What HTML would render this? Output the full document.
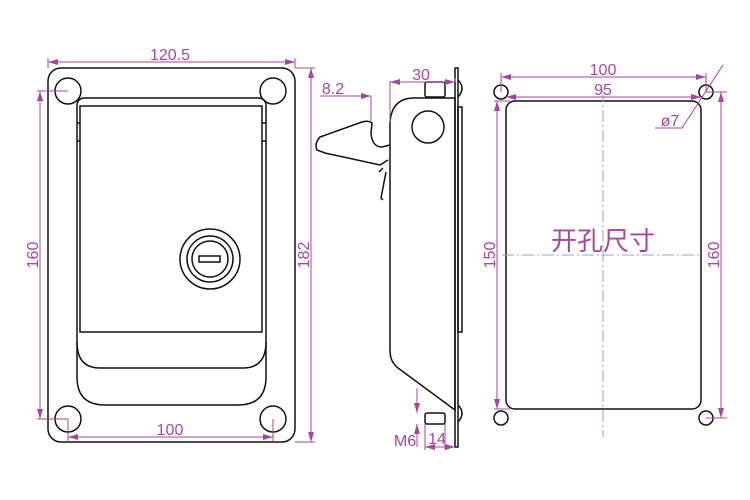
<!DOCTYPE html>
<html><head><style>body{margin:0;background:#fff}svg{display:block}</style></head><body>
<svg width="750" height="500" viewBox="0 0 750 500" xmlns="http://www.w3.org/2000/svg">
<defs>
<marker id="a" viewBox="0 0 10 6" refX="10" refY="3" markerWidth="10" markerHeight="6" orient="auto-start-reverse" markerUnits="userSpaceOnUse"><path d="M0,0L10,3L0,6z" fill="#a6479e"/></marker>
</defs>
<g fill="none" stroke="#111" stroke-width="1.5">
<rect x="48" y="68" width="247" height="374" rx="13"/>
<circle cx="68" cy="91" r="13"/><circle cx="273" cy="91" r="13"/>
<circle cx="68" cy="419" r="13"/><circle cx="273" cy="419" r="13"/>
<path d="M77,106 Q77,98 85,98 L258,98 Q266,98 266,106 L266,377 Q266,405 238,405 L105,405 Q77,405 77,377 Z"/>
<rect x="80" y="106" width="182" height="226"/>
<path d="M77,342 Q77,368 100,368 L243,368 Q266,368 266,342"/>
<path d="M77,123 L80,123 M77,141 L80,141 M262,123 L266,123 M262,141 L266,141"/>
<circle cx="210" cy="259" r="30"/><circle cx="210" cy="259" r="23"/><circle cx="210" cy="259" r="18"/>
<rect x="199" y="256" width="21" height="6"/>
<rect x="455" y="68" width="3" height="379"/>
<rect x="458" y="107" width="4" height="225"/>
<path d="M458,80 Q466,88 458,97"/><path d="M458,405 Q466,413 458,422"/>
<rect x="425" y="82" width="20" height="15" rx="2"/>
<rect x="425" y="413" width="20" height="11" rx="2"/>
<path d="M390,122 Q392,98 414,98 L455,98 L455,410 L398,368 Q390,362 390,350 Z"/>
<circle cx="428" cy="127" r="16"/>
<path d="M390,145 L382,147 Q372,147 371,133 L372,123 Q368,120 362,122 L320,137 Q314,144 317,150 L325,153 L380,165 L388,160"/>
<path d="M383,168 L379,172 M386,172 L381,198 L383,200"/>
<rect x="506" y="101" width="195" height="308" rx="9"/>
<circle cx="501" cy="92" r="7"/><circle cx="706" cy="92" r="7"/>
<circle cx="501" cy="418" r="7"/><circle cx="706" cy="418" r="7"/>
</g>
<g stroke="#8da3d6" stroke-width="1" stroke-dasharray="12,3,2,3" fill="none">
<path d="M603,90 L603,437"/><path d="M502,255 L700,255"/>
</g>
<g stroke="#a6479e" stroke-width="1" fill="none">
<path d="M48,62 L295,62" marker-start="url(#a)" marker-end="url(#a)"/>
<path d="M48,58 V68 M295,58 V68"/>
<path d="M40,91 L40,419" marker-start="url(#a)" marker-end="url(#a)"/>
<path d="M37,91 H68 M37,419 H68"/>
<path d="M311,68 L311,442" marker-start="url(#a)" marker-end="url(#a)"/>
<path d="M295,68 H315 M295,442 H315"/>
<path d="M68,437 L273,437" marker-start="url(#a)" marker-end="url(#a)"/>
<path d="M68,419 V441 M273,419 V441"/>
<path d="M320,96 L371,96" marker-end="url(#a)"/>
<path d="M371,96 V122 M390,81 V122 M455,78 V82"/>
<path d="M390,82 L455,82" marker-start="url(#a)" marker-end="url(#a)"/>
<path d="M417,388 L417,413" marker-end="url(#a)"/><path d="M417,447 L417,424" marker-end="url(#a)"/>
<path d="M425,424 V450 M445,424 V450"/>
<path d="M425,447 L455,447" marker-start="url(#a)" marker-end="url(#a)"/>
<path d="M501,77 L706,77" marker-start="url(#a)" marker-end="url(#a)"/>
<path d="M501,73 V92 M706,73 V92"/>
<path d="M506,97 L701,97" marker-start="url(#a)" marker-end="url(#a)"/>
<path d="M497,101 L497,409" marker-start="url(#a)" marker-end="url(#a)"/>
<path d="M494,101 H510 M494,409 H510"/>
<path d="M721,92 L721,418" marker-start="url(#a)" marker-end="url(#a)"/>
<path d="M706,92 H727 M706,418 H727"/>
<path d="M723,65 L682,128 H655"/>
</g>
<g fill="#a6479e" font-family="Liberation Sans, sans-serif" font-size="16">
<text x="170" y="60" text-anchor="middle">120.5</text>
<text x="170" y="435" text-anchor="middle">100</text>
<text transform="translate(38,255) rotate(-90)" text-anchor="middle">160</text>
<text transform="translate(309,255) rotate(-90)" text-anchor="middle">182</text>
<text x="333" y="94" text-anchor="middle">8.2</text>
<text x="421" y="80" text-anchor="middle">30</text>
<text x="405" y="446" text-anchor="middle">M6</text>
<text x="437" y="444" text-anchor="middle">14</text>
<text x="603" y="75" text-anchor="middle">100</text>
<text x="603" y="95" text-anchor="middle">95</text>
<text x="670" y="126" text-anchor="middle">ø7</text>
<text transform="translate(495,255) rotate(-90)" text-anchor="middle">150</text>
<text transform="translate(719,255) rotate(-90)" text-anchor="middle">160</text>
<text x="603" y="250" text-anchor="middle" font-size="26" font-family="Liberation Sans, Noto Sans CJK SC, sans-serif">开孔尺寸</text>
</g>
</svg>
</body></html>
